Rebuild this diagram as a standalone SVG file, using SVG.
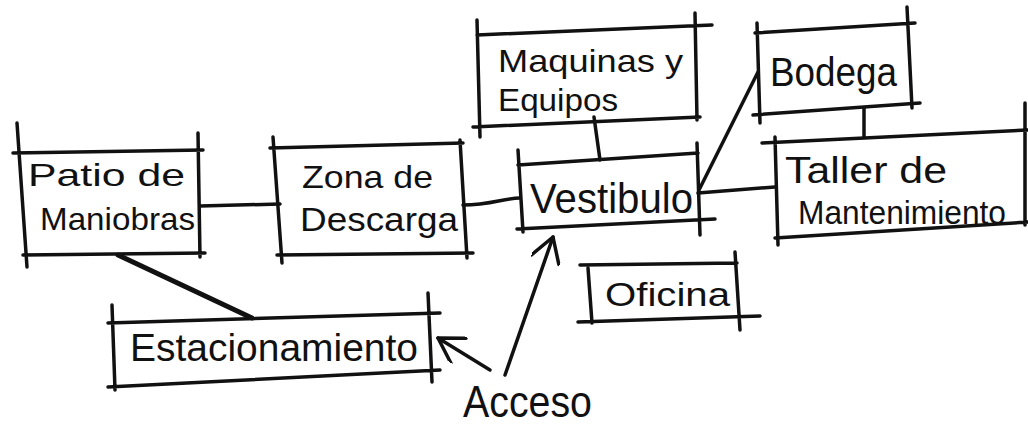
<svg xmlns="http://www.w3.org/2000/svg" width="1028" height="424" viewBox="0 0 1028 424">
  <style>
    .ln { fill: none; stroke: #111; stroke-width: 3.5; stroke-linecap: round; stroke-linejoin: round; }
    .thick { stroke-width: 5; }
    .t { font-family: "Liberation Sans", "DejaVu Sans", sans-serif; fill: #111; }
  </style>
  <defs>
    <marker id="arr" viewBox="0 0 30 30" refX="27" refY="14.5" markerWidth="30" markerHeight="30" markerUnits="userSpaceOnUse" orient="auto">
      <path d="M3,0 L27,14.5 L3,29" fill="none" stroke="#111" stroke-width="3.5" stroke-linecap="round" stroke-linejoin="round"/>
    </marker>
  </defs>
  <rect width="1028" height="424" fill="#ffffff"/>

  <g id="connectors">
    <path class="ln" d="M200,206 L280,204"/>
    <path class="ln" d="M463,205 C490,205 505,198 520,198"/>
    <path class="ln" d="M594,117 L600,160"/>
    <path class="ln" d="M699,190 L758,72"/>
    <path class="ln" d="M698,193 L775,187"/>
    <path class="ln" d="M864,108 L864,137"/>
    <path class="ln thick" d="M118,255 L252,318"/>
    <path class="ln" d="M505,375 L553,237" marker-end="url(#arr)"/>
    <path class="ln" d="M490,370 L438,338" marker-end="url(#arr)"/>
  </g>

  <g id="patio">
    <path class="ln" d="M13,153 L203,150 M17,123 L27,267 M198,133 L200,257 M23,255 L205,253"/>
    <text class="t" x="28" y="186" font-size="32" textLength="157" lengthAdjust="spacingAndGlyphs">Patio de</text>
    <text class="t" x="40" y="230" font-size="32" textLength="155" lengthAdjust="spacingAndGlyphs">Maniobras</text>
  </g>

  <g id="zona">
    <path class="ln" d="M270,148 L463,143 M273,137 L282,263 M460,140 L467,258 M277,255 L473,253"/>
    <text class="t" x="302" y="188" font-size="32" textLength="131" lengthAdjust="spacingAndGlyphs">Zona de</text>
    <text class="t" x="300" y="231" font-size="34" textLength="158" lengthAdjust="spacingAndGlyphs">Descarga</text>
  </g>

  <g id="maquinas">
    <path class="ln" d="M477,35 L712,25 M477,20 L480,137 M695,13 L697,120 M473,127 L700,117"/>
    <text class="t" x="498" y="72" font-size="32" textLength="185" lengthAdjust="spacingAndGlyphs">Maquinas y</text>
    <text class="t" x="498" y="111" font-size="32" textLength="120" lengthAdjust="spacingAndGlyphs">Equipos</text>
  </g>

  <g id="bodega">
    <path class="ln" d="M755,33 L915,23 M757,23 L760,123 M907,7 L912,108 M753,115 L920,103"/>
    <text class="t" x="770" y="86" font-size="40" textLength="127" lengthAdjust="spacingAndGlyphs">Bodega</text>
  </g>

  <g id="vestibulo">
    <path class="ln" d="M518,165 L698,153 M518,150 L523,232 M697,143 L700,235 M517,229 L715,219"/>
    <text class="t" x="530" y="213" font-size="42" textLength="163" lengthAdjust="spacingAndGlyphs">Vestibulo</text>
  </g>

  <g id="taller">
    <path class="ln" d="M762,143 L1028,130 M775,137 L778,245 M1025,103 L1025,225 M775,238 L1028,222"/>
    <text class="t" x="785" y="183" font-size="36" textLength="162" lengthAdjust="spacingAndGlyphs">Taller de</text>
    <text class="t" x="798" y="224" font-size="34" textLength="208" lengthAdjust="spacingAndGlyphs">Mantenimiento</text>
  </g>

  <g id="oficina">
    <path class="ln" d="M580,265 L737,263 M588,268 L592,323 M735,252 L740,330 M578,322 L760,316"/>
    <text class="t" x="605" y="306" font-size="34" textLength="125" lengthAdjust="spacingAndGlyphs">Oficina</text>
  </g>

  <g id="estacionamiento">
    <path class="ln" d="M108,323 L440,313 M112,305 L115,390 M428,293 L432,382 M108,387 L440,370"/>
    <text class="t" x="130" y="361" font-size="38" textLength="288" lengthAdjust="spacingAndGlyphs">Estacionamiento</text>
  </g>

  <g id="acceso">
    <text class="t" x="463" y="417" font-size="44" textLength="129" lengthAdjust="spacingAndGlyphs">Acceso</text>
  </g>
</svg>
